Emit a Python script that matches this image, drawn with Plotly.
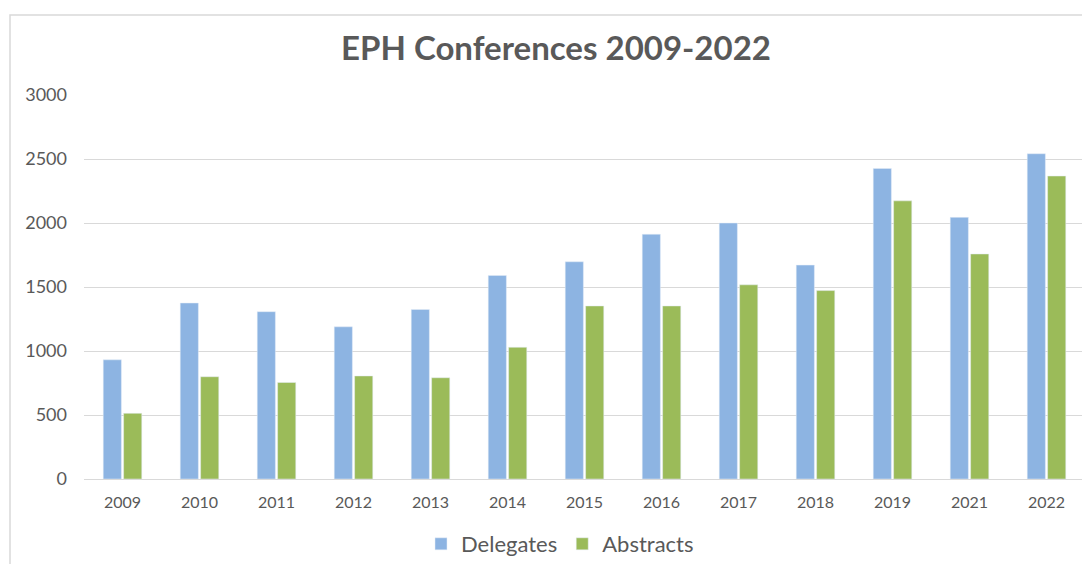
import plotly.graph_objects as go

years = ["2009", "2010", "2011", "2012", "2013", "2014", "2015", "2016", "2017", "2018", "2019", "2021", "2022"]
delegates = [931, 1375, 1307, 1189, 1324, 1590, 1697, 1912, 2000, 1671, 2426, 2044, 2541]
abstracts = [513, 799, 754, 805, 791, 1029, 1352, 1352, 1517, 1472, 2173, 1758, 2367]
y_ticks = [0, 500, 1000, 1500, 2000, 2500, 3000]

OFF = 8  # page body margin
W, H = 1090 - OFF, 564 - OFF
L, R, T, B = 84 - OFF, 5, 95 - OFF, 85
pw = W - L - R
ph = H - T - B

fig = go.Figure()
fig.add_trace(go.Bar(x=years, y=delegates, name="Delegates", marker_color="#8DB4E2"))
fig.add_trace(go.Bar(x=years, y=abstracts, name="Abstracts", marker_color="#9BBB59"))

fig.update_layout(
    width=W, height=H,
    margin=dict(l=L, r=R, t=T, b=B),
    paper_bgcolor="white", plot_bgcolor="white",
    font=dict(family="Lato", color="#595959"),
    title=dict(text="<b>EPH Conferences 2009-2022</b>", x=(556 - OFF) / W, xanchor="center",
               y=1 - (48 - OFF) / H, yanchor="middle", font=dict(size=33, color="#595959")),
    barmode="group", bargap=0.47, bargroupgap=0.11,
    showlegend=True,
    legend=dict(orientation="h", x=(560 - OFF) / W, xref="container", xanchor="center",
                y=1 - (544 - OFF) / H, yref="container", yanchor="middle",
                font=dict(size=22, color="#595959"), itemwidth=30,
                traceorder="normal"),
    xaxis=dict(type="category", showgrid=False, showline=True, linecolor="#d9d9d9",
               ticks="", tickfont=dict(size=16, color="#595959"), ticklabelstandoff=9),
    yaxis=dict(range=[0, 3000], tickvals=y_ticks, showgrid=True, gridcolor="#d9d9d9",
               zeroline=False, ticks="", tickfont=dict(size=18, color="#595959"),
               ticklabelstandoff=16),
    shapes=[dict(type="rect", xref="paper", yref="paper",
                 x0=(10 - 84) / pw, x1=(W + 5 - L) / pw,
                 y0=(B - H - 10) / ph, y1=(H - B - (15 - OFF)) / ph,
                 line=dict(color="#d9d9d9", width=1.5), fillcolor="rgba(0,0,0,0)",
                 layer="below")],
)

fig.write_html("out.html")
